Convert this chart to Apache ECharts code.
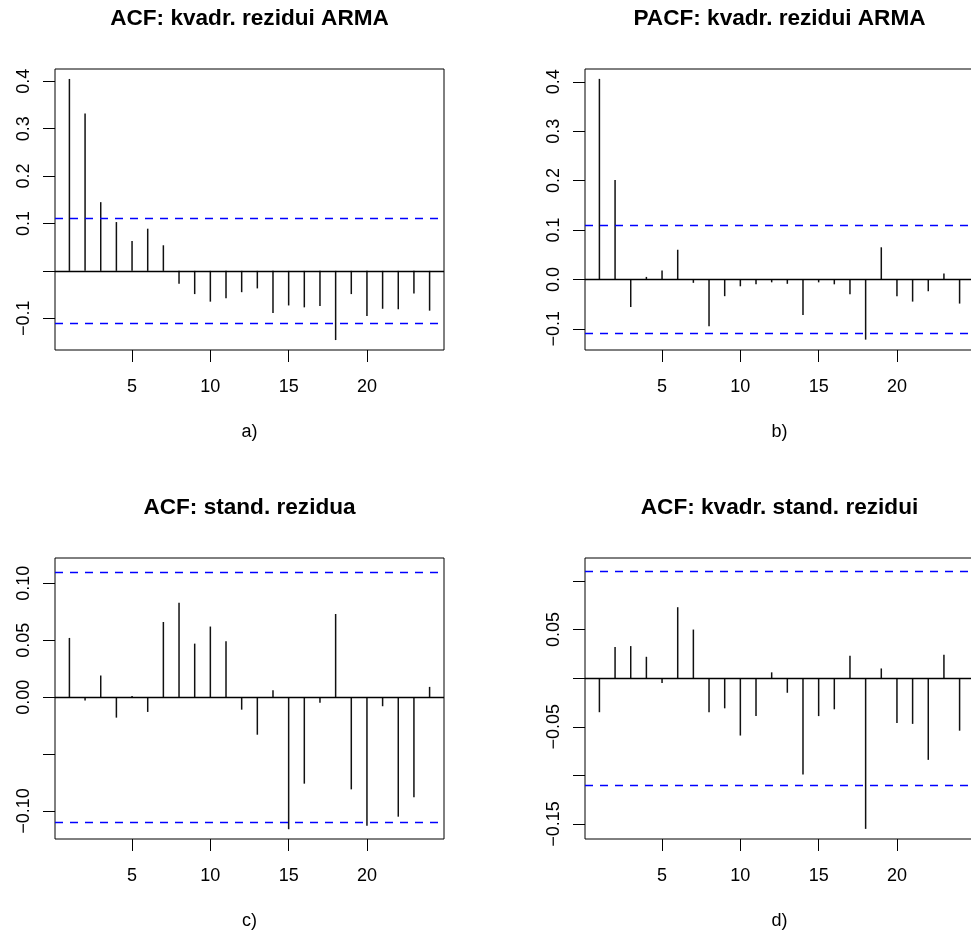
<!DOCTYPE html>
<html>
<head>
<meta charset="utf-8">
<script src="https://cdn.jsdelivr.net/npm/echarts@6/dist/echarts.min.js"></script>
<style>
html, body { margin: 0; padding: 0; background: #fff; }
#chart { width: 971px; height: 932px; }
</style>
</head>
<body>
<div id="chart"></div>
<script>
var myChart = echarts.init(document.getElementById('chart'));

// lags shown on every panel
var lags = [1, 2, 3, 4, 5, 6, 7, 8, 9, 10, 11, 12, 13, 14, 15, 16, 17, 18, 19, 20, 21, 22, 23, 24];

// a) ACF of squared ARMA residuals
var acfSqResid = [0.405, 0.332, 0.145, 0.103, 0.063, 0.089, 0.054, -0.027, -0.049, -0.065, -0.058, -0.045,
	-0.037, -0.089, -0.073, -0.077, -0.074, -0.146, -0.049, -0.095, -0.080, -0.081, -0.048, -0.084];
// b) PACF of squared ARMA residuals
var pacfSqResid = [0.406, 0.201, -0.056, 0.005, 0.018, 0.060, -0.007, -0.095, -0.034, -0.014, -0.010, -0.006,
	-0.009, -0.072, -0.006, -0.010, -0.030, -0.122, 0.065, -0.034, -0.045, -0.024, 0.012, -0.049];
// c) ACF of standardized residuals
var acfStdResid = [0.052, -0.003, 0.019, -0.018, 0.001, -0.013, 0.066, 0.083, 0.047, 0.062, 0.049, -0.011,
	-0.033, 0.006, -0.116, -0.076, -0.005, 0.073, -0.081, -0.113, -0.008, -0.105, -0.088, 0.009];
// d) ACF of squared standardized residuals
var acfSqStdResid = [-0.035, 0.032, 0.033, 0.022, -0.005, 0.073, 0.050, -0.035, -0.031, -0.059, -0.039, 0.006,
	-0.015, -0.099, -0.039, -0.032, 0.023, -0.155, 0.010, -0.046, -0.047, -0.084, 0.024, -0.054];

// 95% limit, 1.96/sqrt(n)
var confLimit = 0.113;

var titles = ['ACF: kvadr. rezidui ARMA', 'PACF: kvadr. rezidui ARMA', 'ACF: stand. rezidua', 'ACF: kvadr. stand. rezidui'];
var captions = ['a)', 'b)', 'c)', 'd)'];
var xTicks = [5, 10, 15, 20];

var panels = [
	{ values: acfSqResid, left: 55, top: 69, yMin: -0.167, yMax: 0.426, dec: 1,
		ticks: [-0.1, 0, 0.1, 0.2, 0.3, 0.4], labels: [-0.1, 0.1, 0.2, 0.3, 0.4] },
	{ values: pacfSqResid, left: 585, top: 69, yMin: -0.143, yMax: 0.426, dec: 1,
		ticks: [-0.1, 0, 0.1, 0.2, 0.3, 0.4], labels: [-0.1, 0, 0.1, 0.2, 0.3, 0.4] },
	{ values: acfStdResid, left: 55, top: 558, yMin: -0.1246, yMax: 0.1222, dec: 2,
		ticks: [-0.1, -0.05, 0, 0.05, 0.1], labels: [-0.1, 0, 0.05, 0.1] },
	{ values: acfSqStdResid, left: 585, top: 558, yMin: -0.1654, yMax: 0.1236, dec: 2,
		ticks: [-0.15, -0.1, -0.05, 0, 0.05, 0.1], labels: [-0.15, -0.05, 0.05] }
];

var W = 389, H = 281;
var font = "'Liberation Sans', Arial, Helvetica, sans-serif";

var option = {
	animation: false,
	backgroundColor: '#fff',
	title: [],
	grid: [],
	xAxis: [],
	yAxis: [],
	series: []
};

panels.forEach(function(p, i) {
	option.title.push({
		text: titles[i],
		left: p.left + W / 2,
		top: p.top - 62,
		textAlign: 'center',
		padding: 0,
		textStyle: { fontFamily: font, fontSize: 22.6, fontWeight: 'bold', color: '#000' }
	});
	option.grid.push({
		left: p.left, top: p.top, width: W, height: H,
		outerBoundsMode: 'none',
		containLabel: false,
		show: true, borderColor: '#000', borderWidth: 1, backgroundColor: 'transparent'
	});
	option.xAxis.push({
		type: 'value', gridIndex: i, min: 0.08, max: 24.92,
		name: captions[i], nameLocation: 'middle', nameGap: 73,
		nameTextStyle: { fontFamily: font, fontSize: 18, color: '#000' },
		axisLine: { show: false, onZero: false },
		splitLine: { show: false },
		axisTick: { show: true, inside: false, length: 12, customValues: xTicks,
			lineStyle: { color: '#000', width: 1 } },
		axisLabel: { customValues: xTicks, margin: 28, fontFamily: font, fontSize: 18, color: '#000' }
	});
	option.yAxis.push({
		type: 'value', gridIndex: i, min: p.yMin, max: p.yMax,
		axisLine: { show: false, onZero: false },
		splitLine: { show: false },
		axisTick: { show: true, inside: false, length: 12, customValues: p.ticks,
			lineStyle: { color: '#000', width: 1 } },
		axisLabel: {
			customValues: p.labels, rotate: 90, margin: 22,
			fontFamily: font, fontSize: 18, color: '#000',
			formatter: function(v) {
				return Number(v).toFixed(p.dec).replace('-', '\u2212');
			}
		}
	});
	option.series.push({
		type: 'bar',
		xAxisIndex: i, yAxisIndex: i,
		barWidth: 1.5,
		itemStyle: { color: '#111' },
		data: lags.map(function(l, k) { return [l, p.values[k]]; }),
		markLine: {
			silent: true,
			symbol: 'none',
			label: { show: false },
			data: [
				{ yAxis: 0, lineStyle: { color: '#000', type: 'solid', width: 1.3 } },
				{ yAxis: confLimit, lineStyle: { color: '#0000ff', type: [8, 7], width: 1.3 } },
				{ yAxis: -confLimit, lineStyle: { color: '#0000ff', type: [8, 7], width: 1.3 } }
			]
		}
	});
});

myChart.setOption(option);
</script>
</body>
</html>
